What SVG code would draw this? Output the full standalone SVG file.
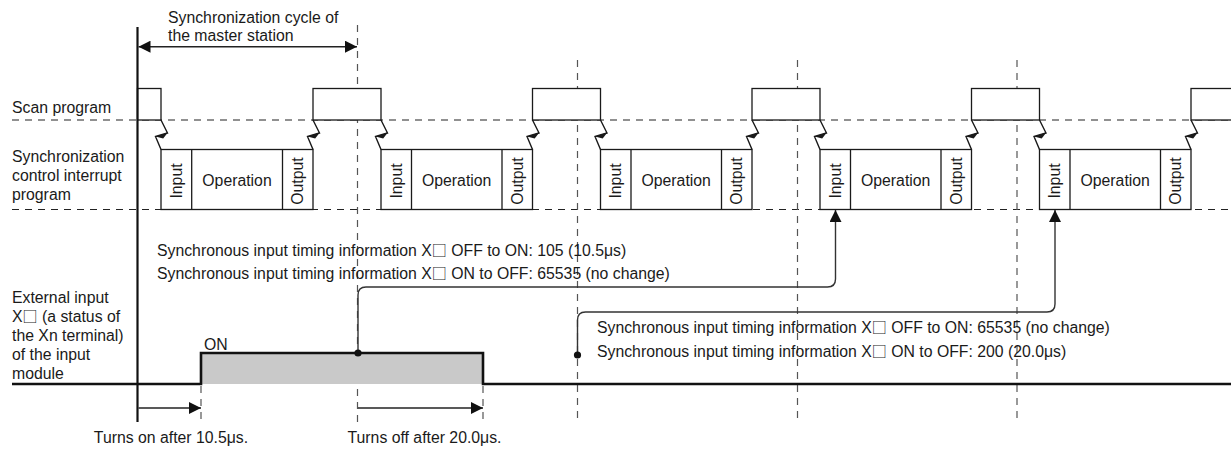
<svg xmlns="http://www.w3.org/2000/svg" width="1231" height="449" viewBox="0 0 1231 449">
<style>
text{font-family:"Liberation Sans",Arial,sans-serif;font-size:15.8px;fill:#1a1a1a}
.sq{font-family:"Noto Sans CJK JP","DejaVu Sans",sans-serif;font-size:15px}
.mid{text-anchor:middle}
.box{fill:#fff;stroke:#1a1a1a;stroke-width:1.3}
.sep{stroke:#1a1a1a;stroke-width:1.3}
.hd{stroke:#222;stroke-width:1.2;stroke-dasharray:7 6;fill:none}
.vd{stroke:#555;stroke-width:1.2;stroke-dasharray:7 6;fill:none}
.conn{fill:none;stroke:#333;stroke-width:1.4}
.arr{fill:none;stroke:#222;stroke-width:1.4}
.bolt{fill:none;stroke:#1a1a1a;stroke-width:1.4;stroke-linejoin:miter}
</style>
<defs>
<marker id="ah" markerUnits="userSpaceOnUse" viewBox="0 0 12 12" refX="12" refY="6" markerWidth="12" markerHeight="12" orient="auto-start-reverse">
<path d="M0,0 L12,6 L0,12 z" fill="#111"/>
</marker>
<g id="bolt">
<path class="bolt" d="M0,0 L6.5,13 L-5.5,16.5 L0,29.5"/>
<path d="M6.8,12.4 L-5.5,16.5 L2.2,18.6 Z" fill="#1a1a1a"/>
</g>
</defs>

<g id="grid">
<line class="hd" x1="12" y1="120" x2="1231" y2="120"/>
<line class="hd" x1="12" y1="209.5" x2="1231" y2="209.5"/>
<line class="vd" x1="357.5" y1="25" x2="357.5" y2="422"/>
<line class="vd" x1="577.5" y1="60" x2="577.5" y2="422"/>
<line class="vd" x1="797.5" y1="60" x2="797.5" y2="422"/>
<line class="vd" x1="1017" y1="60" x2="1017" y2="422"/>
<line class="vd" x1="201" y1="386" x2="201" y2="422"/>
<line class="vd" x1="483" y1="386" x2="483" y2="422"/>
</g>

<g id="scan-program">
<rect class="box" x="137.5" y="88.5" width="23.5" height="31.5"/>
<rect class="box" x="313" y="88.5" width="68" height="31.5"/>
<rect class="box" x="532.5" y="88.5" width="68" height="31.5"/>
<rect class="box" x="752" y="88.5" width="68" height="31.5"/>
<rect class="box" x="971.5" y="88.5" width="68" height="31.5"/>
<rect class="box" x="1191" y="88.5" width="68" height="31.5"/>
</g>

<g id="interrupt-1">
<rect class="box" x="161" y="149.5" width="152" height="60"/>
<line class="sep" x1="191.7" y1="149.5" x2="191.7" y2="209.5"/>
<line class="sep" x1="282.5" y1="149.5" x2="282.5" y2="209.5"/>
<text transform="translate(181.5,181) rotate(-90)" class="mid">Input</text>
<text x="237" y="186" class="mid">Operation</text>
<text transform="translate(303,181) rotate(-90)" class="mid">Output</text>
</g>
<g id="interrupt-2">
<rect class="box" x="381" y="149.5" width="151.5" height="60"/>
<line class="sep" x1="411.5" y1="149.5" x2="411.5" y2="209.5"/>
<line class="sep" x1="502" y1="149.5" x2="502" y2="209.5"/>
<text transform="translate(401.5,181) rotate(-90)" class="mid">Input</text>
<text x="456.7" y="186" class="mid">Operation</text>
<text transform="translate(522.5,181) rotate(-90)" class="mid">Output</text>
</g>
<g id="interrupt-3">
<rect class="box" x="600.5" y="149.5" width="151.5" height="60"/>
<line class="sep" x1="631" y1="149.5" x2="631" y2="209.5"/>
<line class="sep" x1="721.5" y1="149.5" x2="721.5" y2="209.5"/>
<text transform="translate(621,181) rotate(-90)" class="mid">Input</text>
<text x="676.2" y="186" class="mid">Operation</text>
<text transform="translate(742,181) rotate(-90)" class="mid">Output</text>
</g>
<g id="interrupt-4">
<rect class="box" x="820" y="149.5" width="151.5" height="60"/>
<line class="sep" x1="850.5" y1="149.5" x2="850.5" y2="209.5"/>
<line class="sep" x1="941" y1="149.5" x2="941" y2="209.5"/>
<text transform="translate(840.5,181) rotate(-90)" class="mid">Input</text>
<text x="895.7" y="186" class="mid">Operation</text>
<text transform="translate(961.5,181) rotate(-90)" class="mid">Output</text>
</g>
<g id="interrupt-5">
<rect class="box" x="1039.5" y="149.5" width="151.5" height="60"/>
<line class="sep" x1="1070" y1="149.5" x2="1070" y2="209.5"/>
<line class="sep" x1="1160.5" y1="149.5" x2="1160.5" y2="209.5"/>
<text transform="translate(1060,181) rotate(-90)" class="mid">Input</text>
<text x="1115.2" y="186" class="mid">Operation</text>
<text transform="translate(1181,181) rotate(-90)" class="mid">Output</text>
</g>

<g id="interrupts">
<use href="#bolt" x="161" y="120"/>
<use href="#bolt" x="313" y="120"/>
<use href="#bolt" x="381" y="120"/>
<use href="#bolt" x="532.5" y="120"/>
<use href="#bolt" x="600.5" y="120"/>
<use href="#bolt" x="752" y="120"/>
<use href="#bolt" x="820" y="120"/>
<use href="#bolt" x="971.5" y="120"/>
<use href="#bolt" x="1039.5" y="120"/>
<use href="#bolt" x="1191" y="120"/>
</g>

<g id="timeline">
<line x1="137.5" y1="27" x2="137.5" y2="422" stroke="#111" stroke-width="2.2"/>
</g>

<g id="external-input">
<rect x="201" y="353" width="282" height="31" fill="#c9c9c9"/>
<path d="M12,384 H201 V353 H483 V384 H1231" fill="none" stroke="#111" stroke-width="2.6"/>
<text x="204" y="350">ON</text>
</g>

<g id="connectors">
<line class="arr" x1="138.5" y1="46.7" x2="357" y2="46.7" marker-start="url(#ah)" marker-end="url(#ah)"/>
<line class="arr" x1="138.5" y1="408" x2="201" y2="408" marker-end="url(#ah)"/>
<line class="arr" x1="358" y1="408" x2="483" y2="408" marker-end="url(#ah)"/>
<path class="conn" d="M358,353 V295 Q358,287 366,287 H827.5 Q835.5,287 835.5,279 V210" marker-end="url(#ah)"/>
<path class="conn" d="M577.5,355 V320 Q577.5,312 585.5,312 H1047 Q1055,312 1055,304 V210" marker-end="url(#ah)"/>
<circle cx="358" cy="353" r="3.6" fill="#111"/>
<circle cx="577.5" cy="355" r="3.6" fill="#111"/>
</g>

<g id="labels">
<text x="168" y="23">Synchronization cycle of</text>
<text x="168" y="40.5">the master station</text>
<text x="12" y="113">Scan program</text>
<text x="12" y="161.5">Synchronization</text>
<text x="12" y="180.5">control interrupt</text>
<text x="12" y="199.5">program</text>
<text x="12" y="302.5">External input</text>
<text x="12" y="321.5">X<tspan class="sq">□</tspan> (a status of</text>
<text x="12" y="340.5">the Xn terminal)</text>
<text x="12" y="359.5">of the input</text>
<text x="12" y="378.5">module</text>
<text x="157" y="255.5">Synchronous input timing information X<tspan class="sq">□</tspan> OFF to ON: 105 (10.5μs)</text>
<text x="157" y="279">Synchronous input timing information X<tspan class="sq">□</tspan> ON to OFF: 65535 (no change)</text>
<text x="597" y="332.5">Synchronous input timing information X<tspan class="sq">□</tspan> OFF to ON: 65535 (no change)</text>
<text x="597" y="356.5">Synchronous input timing information X<tspan class="sq">□</tspan> ON to OFF: 200 (20.0μs)</text>
<text x="171" y="443" class="mid">Turns on after 10.5μs.</text>
<text x="424.5" y="443" class="mid">Turns off after 20.0μs.</text>
</g>
</svg>
